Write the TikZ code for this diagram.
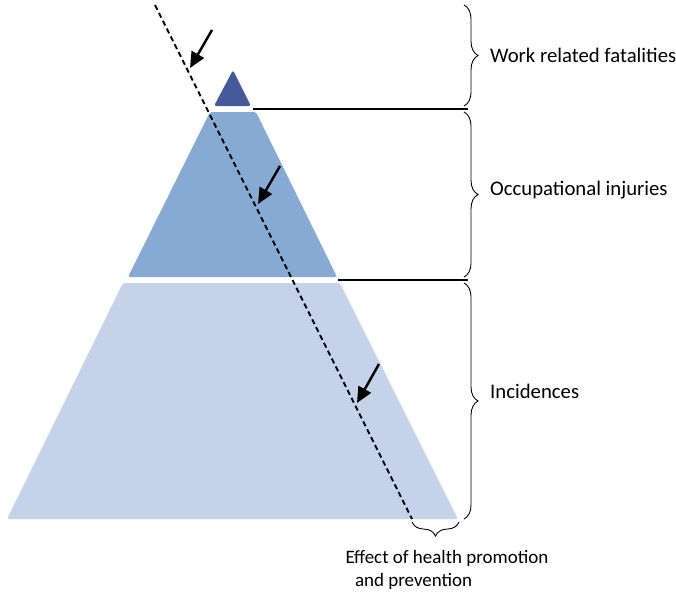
\documentclass[tikz,border=0pt]{standalone}
\usepackage{fontspec}
\setmainfont{Carlito}
\usetikzlibrary{arrows.meta,decorations.pathreplacing}
\definecolor{topblue}{RGB}{68,90,155}
\definecolor{midblue}{RGB}{135,170,212}
\definecolor{lowblue}{RGB}{196,211,233}

\begin{document}
\begin{tikzpicture}[x=0.02cm,y=-0.02cm,
    level/.style={rounded corners=1pt},
    bracket/.style={decorate,decoration={brace,amplitude=8pt},line width=0.5pt},
    label/.style={anchor=west,font=\fontsize{11.8}{14}\selectfont},
    push/.style={line width=1.4pt,-{Triangle[length=9pt,width=8pt]}}]
        \useasboundingbox (0,0) rectangle (676,593);
        % pyramid levels
        \fill[level,topblue] (233,70) -- (251,106) -- (214,106) -- cycle;
        \fill[level,midblue] (210,112) -- (256,112) -- (337,277) -- (128,277) -- cycle;
        \fill[level,lowblue] (123,283) -- (340,283) -- (458,519) -- (7,519) -- cycle;
        \draw[line width=0.7pt] (253,109) -- (468,109);
        \draw[line width=0.7pt] (338,280) -- (468,280);
        % shift line
        \draw[line width=1.1pt,dash pattern=on 3pt off 2pt] (155,5) -- (412,519);
        \coordinate (a1) at (212,30);  \coordinate (b1) at (190,68);
        \coordinate (a2) at (280,166); \coordinate (b2) at (258,204);
        \coordinate (a3) at (379,364); \coordinate (b3) at (357,403);
        \foreach \i in {1,2,3}
            \draw[push] (a\i) -- (b\i);
        % braces
        \draw[bracket] (464,5) -- (464,106);
        \draw[bracket] (464,112) -- (464,277);
        \draw[bracket] (464,283) -- (464,519);
        \draw[bracket] (459,522) -- (412,522);
		\node[label] (fatal) at (484,55) {Work related fatalities};
		\node[label] (injur) at (484,190) {Occupational injuries};
		\node[label] (incid) at (484,391) {Incidences};
		\node[label,anchor=north,align=left,font=\fontsize{10.8}{13}\selectfont] (effect) at (447,544)
        {Effect of health promotion\\\hspace*{0.5em}and prevention};
       \end{tikzpicture}
\end{document}
